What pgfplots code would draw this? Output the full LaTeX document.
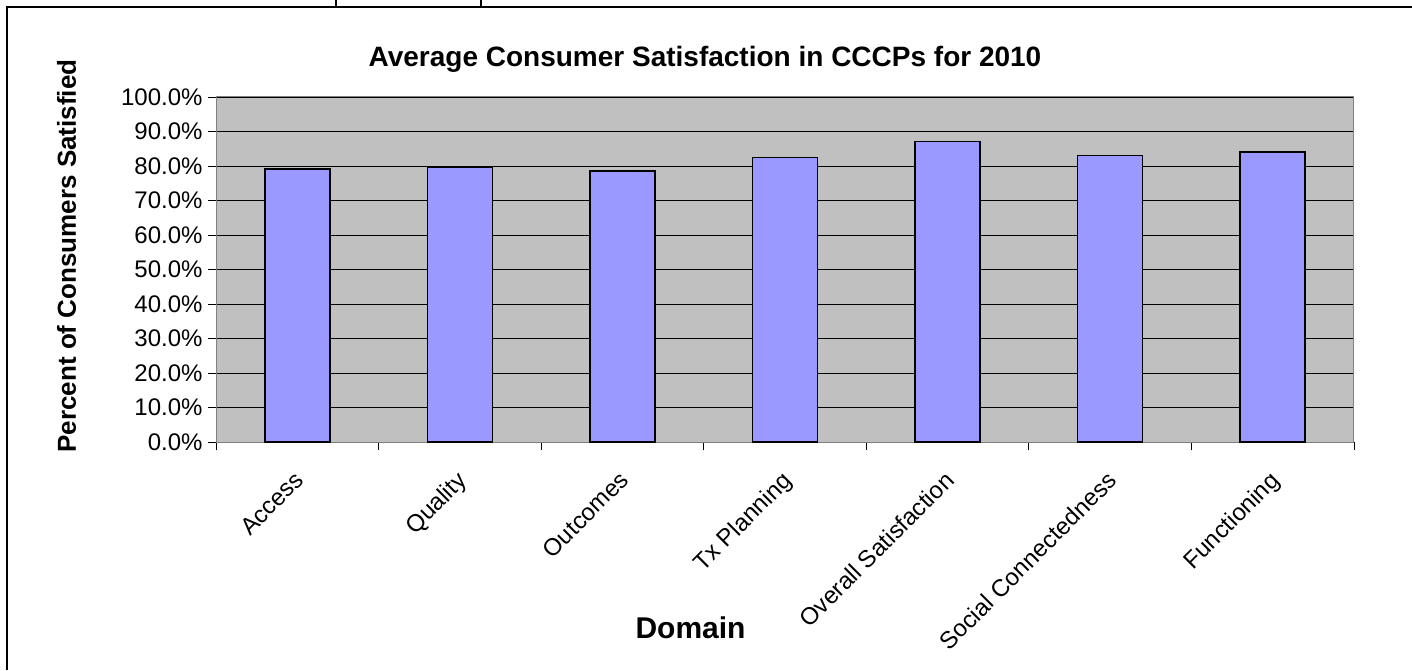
\documentclass[border=0pt]{standalone}
\usepackage{pgfplots}
\pgfplotsset{compat=1.18}
\usepackage{fontspec}
\setmainfont{Liberation Sans}
\definecolor{plotbg}{HTML}{C0C0C0}
\definecolor{barfill}{HTML}{9999FF}
\begin{document}
\begin{tikzpicture}[x=1pt,y=1pt]
\path[use as bounding box] (0,0) rectangle (1412,670);
% frame
\draw[black,line width=2pt] (7,0) -- (7,663) -- (1412,663);
\draw[black,line width=1.5pt] (336,663) -- (336,670);
\draw[black,line width=1.5pt] (481,663) -- (481,670);
\node[font=\fontsize{28}{32}\selectfont\bfseries, anchor=base] at (705,603) {Average Consumer Satisfaction in CCCPs for 2010};
\begin{axis}[
  at={(216pt,228pt)}, anchor=south west,
  scale only axis, width=1138pt, height=345pt,
  ymin=0, ymax=100, xmin=-0.5, xmax=6.5,
  axis background/.style={fill=plotbg},
  axis line style={draw=gray, line width=1pt},
  ymajorgrids, grid style={black, line width=0.8pt},
  ytick={0,10,...,100},
  yticklabels={0.0\%,10.0\%,20.0\%,30.0\%,40.0\%,50.0\%,60.0\%,70.0\%,80.0\%,90.0\%,100.0\%},
  xtick={0,...,6},
  xticklabels={Access,Quality,Outcomes,Tx Planning,Overall Satisfaction,Social Connectedness,Functioning},
  minor xtick={-0.5,0.5,...,6.5},
  tick align=outside, tick pos=left,
  major tick length=8pt, minor tick length=8pt,
  major x tick style={draw=none},
  tick style={black, line width=0.8pt},
  minor x tick style={black, line width=0.8pt},
  ticklabel style={font=\fontsize{24}{28}\selectfont},
  xticklabel style={rotate=45, anchor=north east, inner sep=0pt, yshift=-11pt, xshift=-17pt},
  yticklabel style={xshift=-2pt},
  xlabel={Domain}, ylabel={Percent of Consumers Satisfied},
  label style={font=\fontsize{26}{30}\selectfont\bfseries},
  xlabel style={at={(axis description cs:0.417,0)}, anchor=base, yshift=-196pt, font=\fontsize{30}{34}\selectfont\bfseries},
  ylabel style={at={(axis description cs:0,0.539)}, anchor=base, yshift=140pt},
  ybar, bar width=65pt,
]
\addplot[fill=barfill, draw=black, line width=1.5pt] coordinates {
(0,79.2) (1,79.5) (2,78.5) (3,82.5) (4,87.1) (5,83.1) (6,84.0)};
\end{axis}
\end{tikzpicture}
\end{document}
